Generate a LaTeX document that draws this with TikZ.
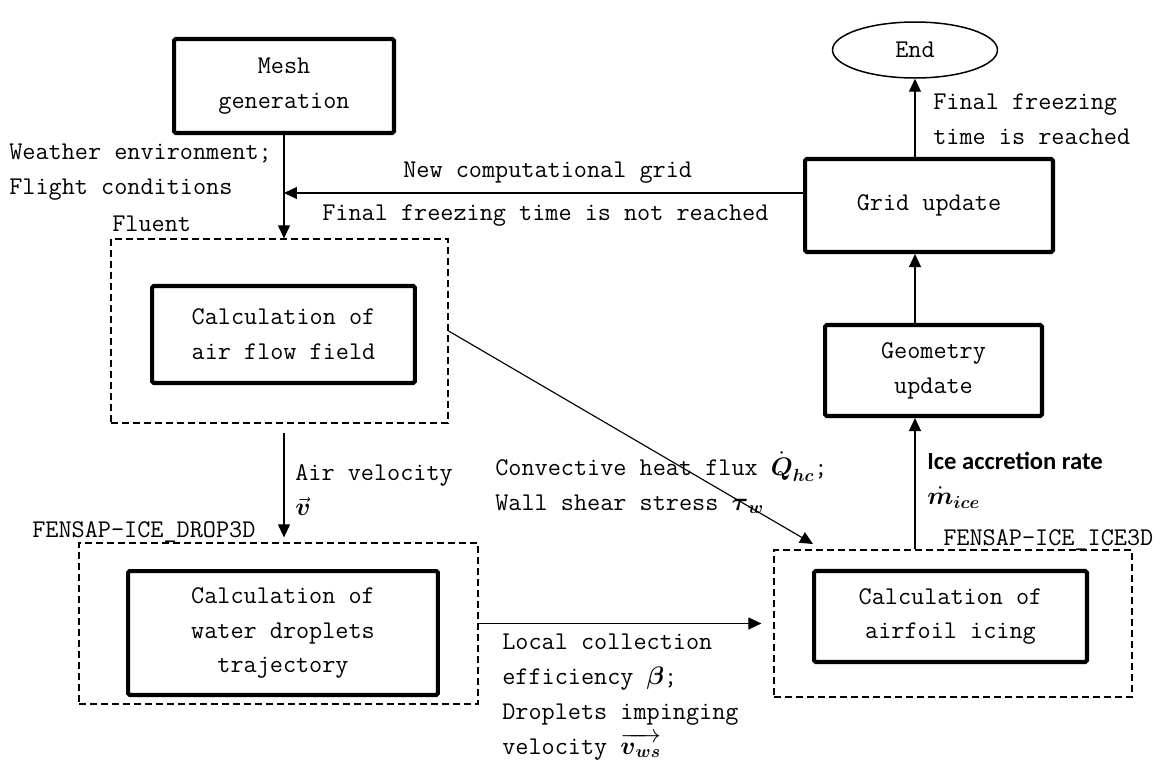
\documentclass[tikz,border=0pt]{standalone}
\usepackage{amsmath}
\usepackage{fontspec}
\newfontfamily\calib{Carlito}
\usepackage{tikz}
\usetikzlibrary{arrows.meta}
\usetikzlibrary{shapes.geometric}

\begin{document}
\begin{tikzpicture}[x=0.02cm, y=-0.02cm,
    every node/.style={font=\ttfamily\fontsize{14.5}{19.8}\selectfont, align=center},
    box/.style={draw, line width=2.3pt, rounded corners=1pt, inner sep=0pt},
    dashbox/.style={draw, line width=0.75pt, dash pattern=on 0.14cm off 0.08cm, inner sep=0pt},
    lbl/.style={inner sep=0pt, align=left, anchor=west},
    flecha/.style={-{Triangle[length=0.26cm,width=0.24cm]}, line width=0.65pt}]
  \useasboundingbox (0,0) rectangle (1164,765);
  % Cajas
  \node[box, minimum width=4.4cm, minimum height=1.88cm] (mesh) at (284,86) {Mesh\\generation};
  \node[box, minimum width=4.96cm, minimum height=1.86cm] (grid) at (929,205.5) {Grid update};
  \node[box, minimum width=4.34cm, minimum height=1.82cm] (geom) at (933.5,370.5) {Geometry\\update};
  \node[draw, ellipse, line width=0.85pt, minimum width=3.3cm, minimum height=1.12cm] (endo) at (915,50) {End};
  \node[dashbox, minimum width=6.74cm, minimum height=3.68cm] (fluentbox) at (279.5,331) {};
  \node[box, minimum width=5.26cm, minimum height=1.94cm] (airflow) at (283.5,334.5) {Calculation of\\air flow field};
  \node[dashbox, minimum width=7.98cm, minimum height=3.22cm] (dropbox) at (278.5,623.5) {};
  \node[box, minimum width=6.2cm, minimum height=2.48cm] (drops) at (283,633) {Calculation of\\water droplets\\trajectory};
  \node[dashbox, minimum width=7.16cm, minimum height=2.94cm] (icebox) at (953,623.5) {};
  \node[box, minimum width=5.46cm, minimum height=1.82cm] (icing) at (950.5,616.5) {Calculation of\\airfoil icing};
  \coordinate (join) at (284,193);
  \coordinate (hit) at (813,544);

  % Etiquetas
  \node[lbl, anchor=base west] (tfluent) at (112,231) {Fluent};
  \node[lbl, anchor=base west] (tdrop) at (32,537) {FENSAP-ICE\_DROP3D};
  \node[lbl, anchor=base west] (tice) at (943,545) {FENSAP-ICE\_ICE3D};
  \node[lbl] (tweather) at (9,172) {Weather environment;\\Flight conditions};
  \node[lbl, anchor=base west] (tnew) at (403,177) {New computational grid};
  \node[lbl, anchor=base west] (tnot) at (322,220) {Final freezing time is not reached};
  \node[lbl] (treached) at (933,119) {Final freezing\\time is reached};
  \node[lbl] (tair) at (295,490) {Air velocity\\$\vec{\boldsymbol{v}}$};
  \node[lbl] (theat) at (495,483) {Convective heat flux $\dot{\boldsymbol{Q}}_{\boldsymbol{hc}}$;\\Wall shear stress $\boldsymbol{\tau}_{\boldsymbol{w}}$};
  \node[lbl] (tlocal) at (502,697) {Local collection\\efficiency $\boldsymbol{\beta}$;\\Droplets impinging\\velocity $\overrightarrow{\boldsymbol{v}_{\boldsymbol{ws}}}$};
  \node[lbl, font=\calib\bfseries\fontsize{14}{20}\selectfont] (tacc) at (927,480) {Ice accretion rate\\$\dot{\boldsymbol{m}}_{\boldsymbol{ice}}$};

  % Flechas
  \draw[flecha] (mesh.south) -- (mesh.south |- fluentbox.north);
  \draw[flecha] (grid.west |- join) -- (join);
  \draw[flecha, shorten <=0.18cm, shorten >=0.1cm] (fluentbox.south -| join) -- (dropbox.north -| join);
  \draw[flecha] (fluentbox.east) -- (hit);
  \draw[flecha, shorten >=0.24cm] (dropbox.east) -- (dropbox.east -| icebox.west);
  \draw[flecha] (icebox.north -| endo) -- (geom.south -| endo);
  \draw[flecha] (geom.north -| endo) -- (grid.south -| endo);
  \draw[flecha] (grid.north -| endo) -- (endo.south);
\end{tikzpicture}
\end{document}
